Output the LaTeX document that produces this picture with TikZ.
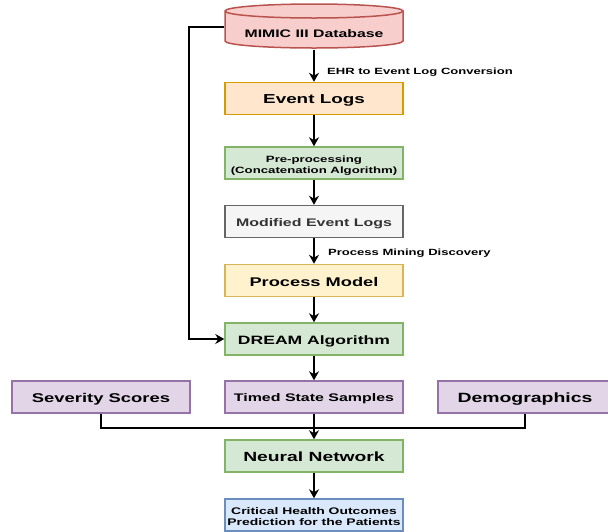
\documentclass[tikz,border=0pt]{standalone}
\usepackage{graphicx}
\usepackage{fontspec}
\setmainfont{Liberation Sans}
\usetikzlibrary{arrows.meta}
\definecolor{redf}{HTML}{F8CECC}\definecolor{redd}{HTML}{B85450}
\definecolor{orf}{HTML}{FFE6CC}\definecolor{ord}{HTML}{D79B00}
\definecolor{grf}{HTML}{D5E8D4}\definecolor{grd}{HTML}{82B366}
\definecolor{gyf}{HTML}{F5F5F5}\definecolor{gyd}{HTML}{666666}\definecolor{gyt}{HTML}{333333}
\definecolor{yef}{HTML}{FFF2CC}\definecolor{yed}{HTML}{D6B656}
\definecolor{puf}{HTML}{E1D5E7}\definecolor{pud}{HTML}{9673A6}
\definecolor{blf}{HTML}{DAE8FC}\definecolor{bld}{HTML}{6C8EBF}
\newcommand{\wt}[1]{\smash{\raisebox{\dimexpr-0.5\height-1pt\relax}{\scalebox{1.45}[1]{#1}}}}
\newcommand{\wtt}[2]{\smash{\raisebox{\dimexpr-0.5\height-1pt\relax}{\scalebox{1.45}[1]{\begin{tabular}[b]{@{}c@{}}#1\\[0.5pt]#2\end{tabular}}}}}
\newcommand{\fs}[1]{\fontsize{#1}{11}\selectfont}
\tikzset{
  box/.style={rectangle, line width=1.5pt, minimum width=178pt, minimum height=32pt, inner sep=0pt, align=center, font=\bfseries},
  arr/.style={line width=2pt, -{Stealth[length=9pt,width=10pt,inset=3pt]}},
  ln/.style={line width=2pt},
  lbl/.style={anchor=west, inner sep=0pt, font=\bfseries\fs{9}}
}
\begin{document}
\begin{tikzpicture}[x=1pt,y=-1pt]
\useasboundingbox (0,0) rectangle (608,531);
% cylinder
\filldraw[fill=redf, draw=redd, line width=1.5pt]
  (225,11) -- (225,41) arc[start angle=180,end angle=0,x radius=89,y radius=7] -- (403,11)
  arc[start angle=0,end angle=-180,x radius=89,y radius=7] -- cycle;
\draw[redd, line width=1.5pt] (225,11) arc[start angle=180,end angle=0,x radius=89,y radius=7];
\node[box, minimum height=44pt, font=\bfseries\fs{10.9}] (db) at (314,27) {\raisebox{-6pt}[0pt][0pt]{\wt{MIMIC III Database}}};
\node[box, fill=orf, draw=ord, font=\bfseries\fs{13}] (ev) at (314,98.5) {\wt{Event Logs}};
\node[box, fill=grf, draw=grd, font=\bfseries\fs{9.1}] (pre) at (314,163) {\wtt{Pre-processing}{(Concatenation Algorithm)}};
\node[box, fill=gyf, draw=gyd, text=gyt, font=\bfseries\fs{11}] (mod) at (314,221.5) {\wt{Modified Event Logs}};
\node[box, fill=yef, draw=yed, font=\bfseries\fs{12.6}] (pm) at (314,280.5) {\wt{Process Model}};
\node[box, fill=grf, draw=grd, font=\bfseries\fs{12.1}] (dream) at (314,339) {\wt{DREAM Algorithm}};
\node[box, fill=puf, draw=pud, font=\bfseries\fs{11}] (ts) at (314,397) {\wt{Timed State Samples}};
\node[box, fill=puf, draw=pud, font=\bfseries\fs{12.7}] (sev) at (101,397) {\wt{Severity Scores}};
\node[box, fill=puf, draw=pud, minimum width=174pt, font=\bfseries\fs{13.4}] (demo) at (525,397) {\wt{Demographics}};
\node[box, fill=grf, draw=grd, font=\bfseries\fs{13.3}] (nn) at (314,456) {\wt{Neural Network}};
\node[box, fill=blf, draw=bld, font=\bfseries\fs{9.6}] (out) at (314,515) {\wtt{Critical Health Outcomes}{Prediction for the Patients}};
\coordinate (j) at (314,428);
% connectors
\draw[arr] (db.south) -- (ev.north);
\node[lbl] (l1) at (327,70) {\wt{EHR to Event Log Conversion}};
\draw[arr] (ev) -- (pre);
\draw[arr] (pre) -- (mod);
\draw[arr] (mod) -- (pm);
\node[lbl] (l2) at (328,251) {\wt{Process Mining Discovery}};
\draw[arr] (pm) -- (dream);
\draw[arr] (db.west) -- ++(-35,0) |- (dream.west);
\draw[arr] (dream) -- (ts);
\draw[ln] (sev.south) |- (j);
\draw[ln] (demo.south) |- (j);
\draw[arr] (ts) -- (nn);
\draw[arr] (nn) -- (out);
\end{tikzpicture}
\end{document}
